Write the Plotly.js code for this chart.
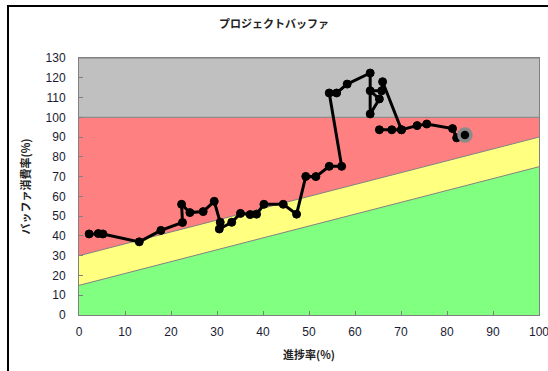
<!DOCTYPE html>
<html><head><meta charset="utf-8">
<script src="https://cdn.plot.ly/plotly-3.0.1.min.js"></script>
<style>
html,body{margin:0;padding:0;background:#fff;overflow:hidden;}
#wrap{position:relative;width:548px;height:371px;}
#chart{position:absolute;left:0;top:0;width:548px;height:371px;}
#frame{position:absolute;left:7px;top:5px;width:600px;height:400px;border-left:2px solid #000;border-top:2px solid #000;pointer-events:none;}
</style></head>
<body><div id="wrap"><div id="chart"></div><div id="frame"></div></div>
<script>
// progress (%) and buffer consumption (%)
const progress = [2.2,4.2,5.2,13.1,17.8,22.5,22.3,24.1,27,29.4,30.7,30.5,33.2,35.1,37.2,38.6,40.2,44.4,47.3,49.3,51.5,54.4,57.1,54.4,56,58.3,63.3,63.3,65.3,63.3,65.8,66,70.1,68,65.3,70.1,73.5,75.6,81.2,82.1,83.9];
const consumption = [41,41.2,41,37,42.8,46.8,56,51.8,52.3,57.5,46.9,43.5,46.9,51.4,50.8,51,56,56,51,70.1,70,75.2,75.2,112.3,112.3,116.8,122.4,101.7,109.3,113.4,113.4,118,93.7,93.7,93.7,93.7,95.8,96.6,94.3,89.6,91];

// zone boundaries (defined at progress 0 and 100)
const zoneX = [0,100];
const zoneBottom = [0,0];
const greenTop = [15,75];
const yellowTop = [30,90];
const redTop = [100,100];
const grayTop = [130,130];

const xTicks = [0,10,20,30,40,50,60,70,80,90,100];
const yTicks = [0,10,20,30,40,50,60,70,80,90,100,110,120,130];

const n = progress.length;
const mSize = progress.map((v,i)=> i===n-1 ? 12 : 8);
const mLineW = progress.map((v,i)=> i===n-1 ? 3.5 : 1);
const mLineC = progress.map((v,i)=> i===n-1 ? '#8a8a8a' : '#000');

const bnd = {color:'#808080', width:1};
const traces = [
  {x:zoneX, y:zoneBottom, mode:'lines', line:{width:0}, hoverinfo:'skip', showlegend:false},
  {x:zoneX, y:greenTop, mode:'lines', fill:'tonexty', fillcolor:'#80ff80', line:bnd, hoverinfo:'skip', showlegend:false},
  {x:zoneX, y:yellowTop, mode:'lines', fill:'tonexty', fillcolor:'#ffff80', line:bnd, hoverinfo:'skip', showlegend:false},
  {x:zoneX, y:redTop, mode:'lines', fill:'tonexty', fillcolor:'#ff8080', line:bnd, hoverinfo:'skip', showlegend:false},
  {x:zoneX, y:grayTop, mode:'lines', fill:'tonexty', fillcolor:'#c0c0c0', line:bnd, hoverinfo:'skip', showlegend:false},
  {x:progress, y:consumption, mode:'lines+markers', line:{color:'#000', width:3},
   marker:{color:'#000', opacity:1, size:mSize, line:{width:mLineW, color:mLineC}}, showlegend:false}
];

const fam = 'Liberation Sans, Arial, "Noto Sans CJK JP", sans-serif';
const jfam = '"Noto Sans CJK JP", sans-serif';
const layout = {
  width:548, height:371,
  margin:{l:79, r:9, t:58, b:56},
  paper_bgcolor:'#fff', plot_bgcolor:'#fff',
  showlegend:false,
  title:{text:'プロジェクトバッファ', font:{family:jfam, size:11, color:'#222', weight:'bold'}, xref:'container', x:0.5, xanchor:'center', y:0.935, yanchor:'middle'},
  xaxis:{range:[0,100], tickvals:xTicks, ticktext:xTicks.map(String), showgrid:false, zeroline:false,
    showline:true, linecolor:'#808080', linewidth:1, mirror:true, ticks:'inside', ticklen:4, tickcolor:'#808080',
    tickfont:{family:fam, size:12, color:'#1a1a33'}, ticklabelstandoff:6, ticklabeloverflow:'allow',
    title:{text:'進捗率(%)', font:{family:jfam, size:11, color:'#222', weight:'bold'}, standoff:12}},
  yaxis:{range:[0,130], tickvals:yTicks, ticktext:yTicks.map(String), showgrid:false, zeroline:false,
    showline:true, linecolor:'#808080', linewidth:1, mirror:true, ticks:'inside', ticklen:4, tickcolor:'#808080',
    tickfont:{family:fam, size:12, color:'#1a1a33'}, ticklabelstandoff:10,
    title:{text:'バッファ消費率(%)', font:{family:jfam, size:11, color:'#222', weight:'bold'}, standoff:12}}
};
Plotly.newPlot('chart', traces, layout, {staticPlot:true, displayModeBar:false});
</script></body></html>
